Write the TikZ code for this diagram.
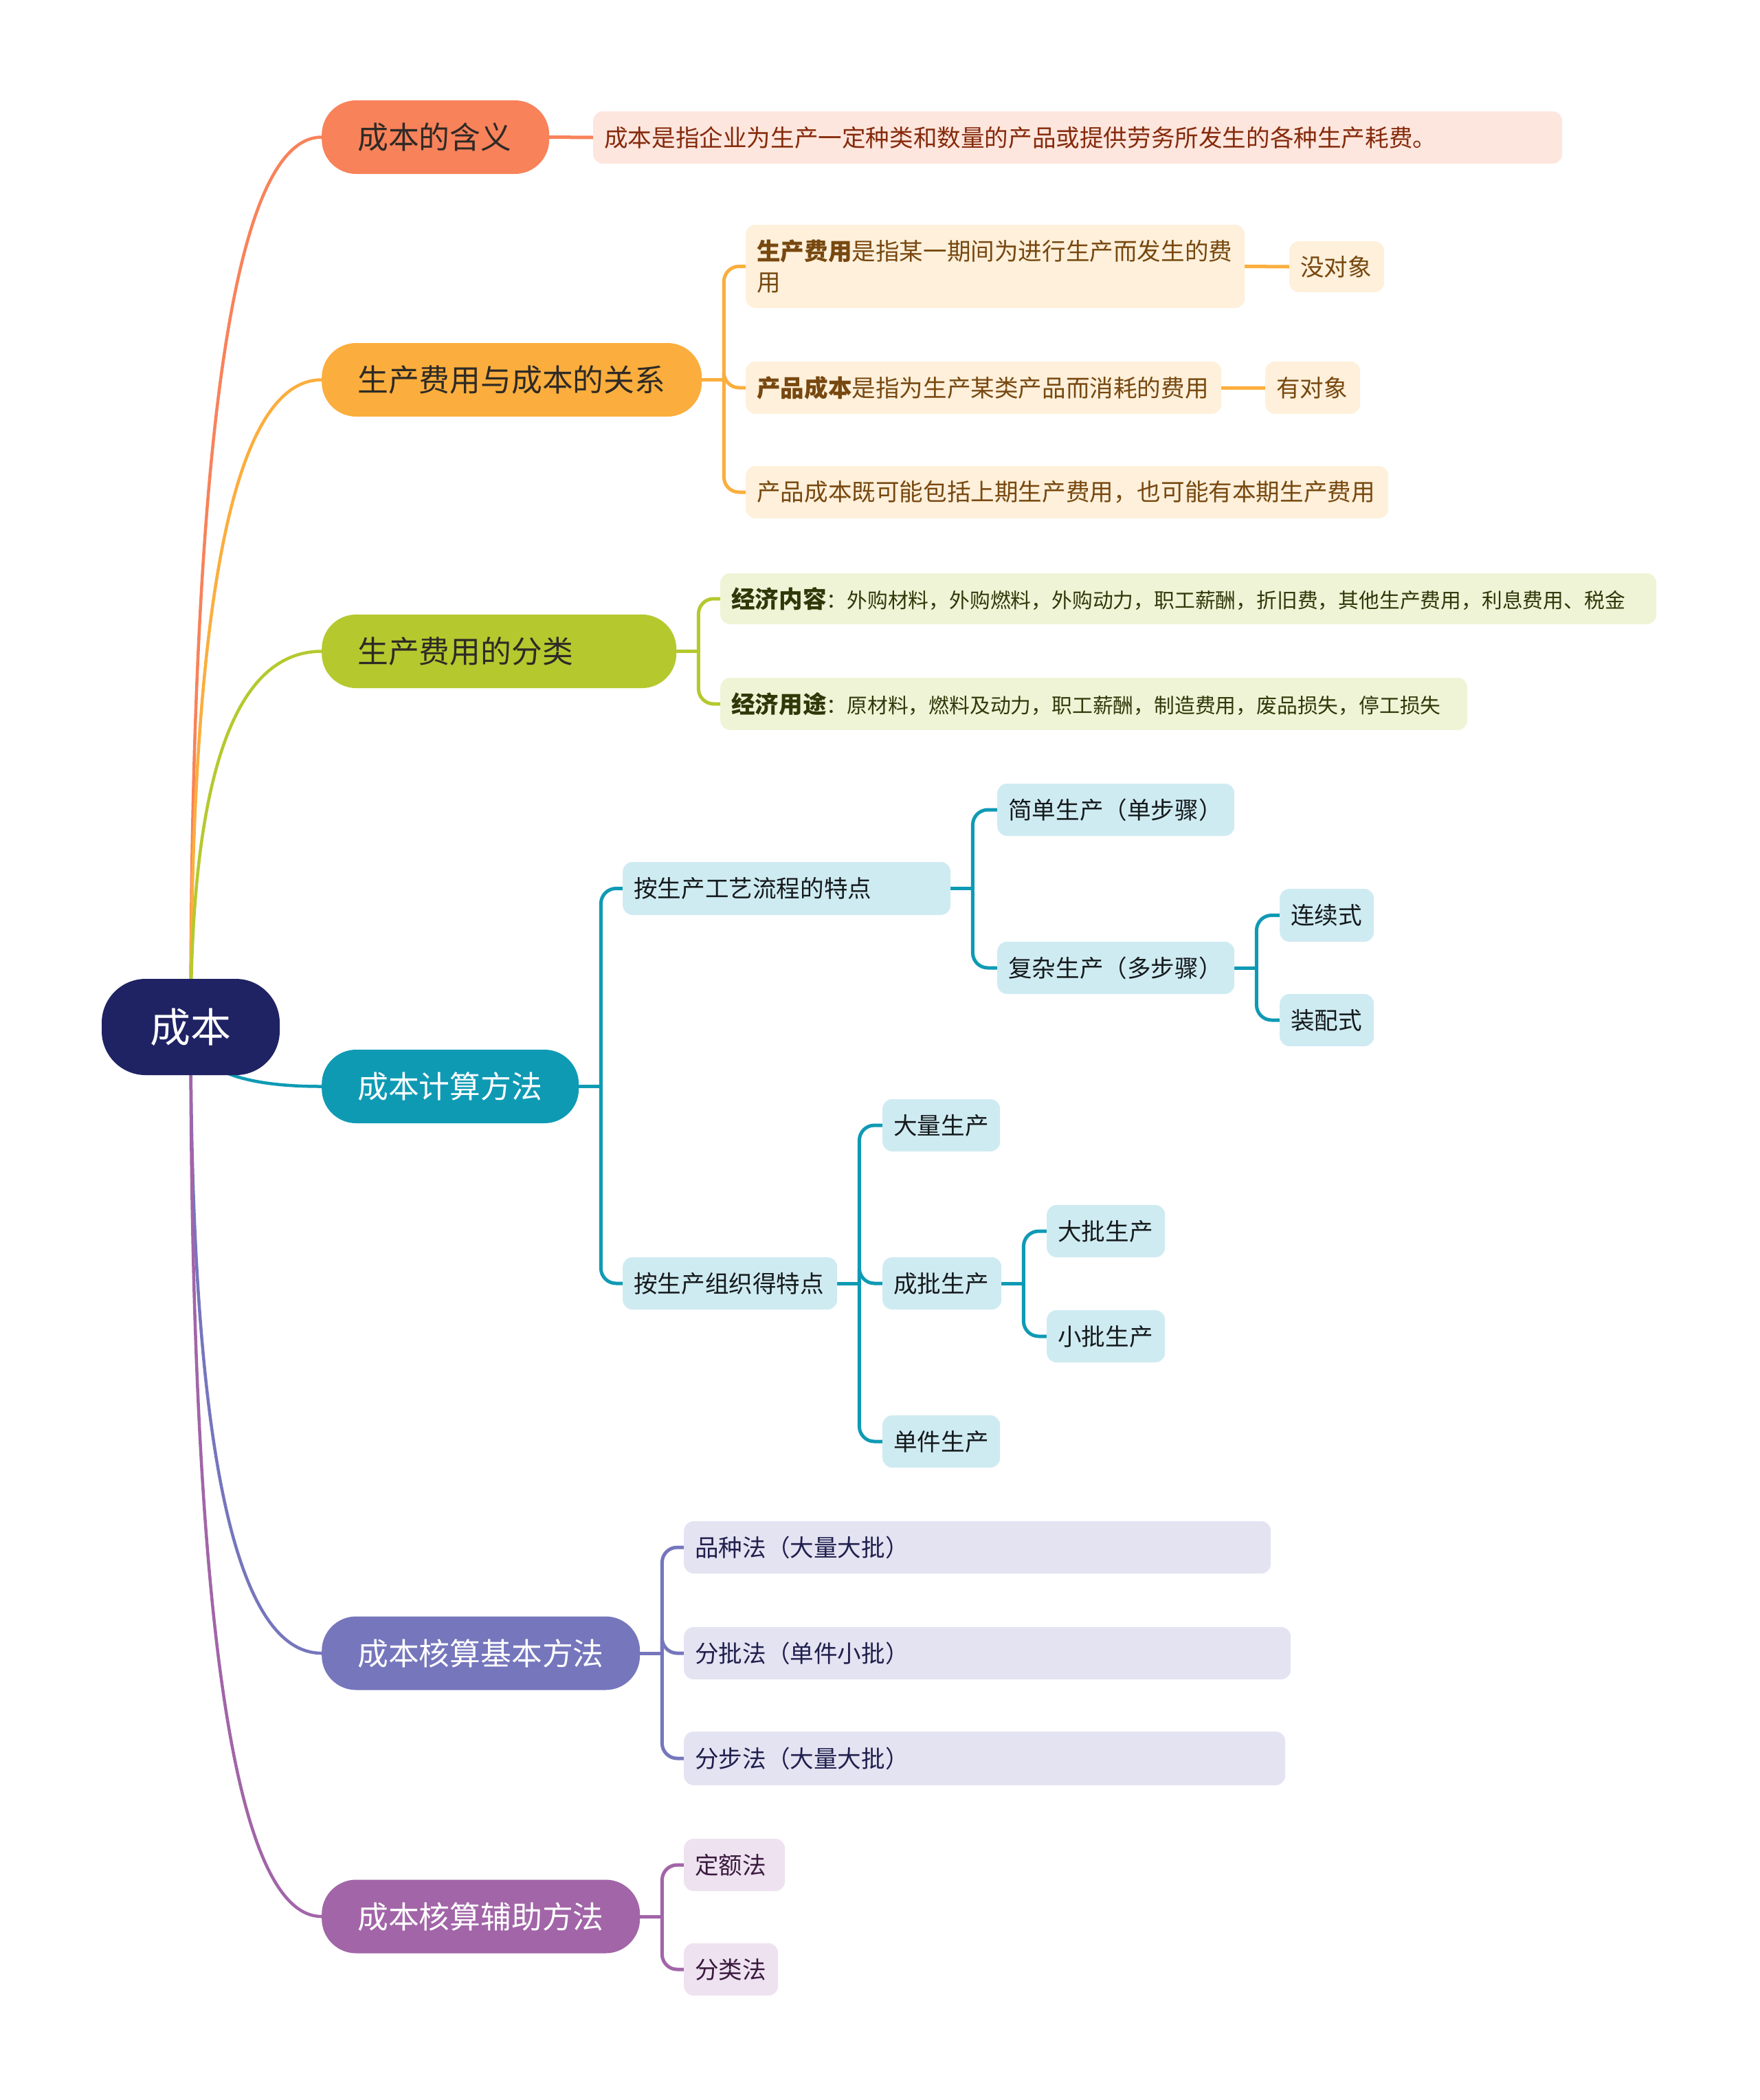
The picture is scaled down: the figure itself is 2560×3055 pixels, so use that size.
\documentclass[tikz,border=0pt]{standalone}
\usepackage{fontspec}
\setmainfont{Noto Sans CJK SC}
\usetikzlibrary{calc,backgrounds}
\definecolor{rootc}{HTML}{1F2363}
\definecolor{ca}{HTML}{F8825A}\definecolor{la}{HTML}{FDE6DD}\definecolor{ta}{HTML}{862A0C}
\definecolor{cb}{HTML}{FBAE3D}\definecolor{lb}{HTML}{FEF0DA}\definecolor{tb}{HTML}{774810}
\definecolor{cc}{HTML}{B5C92E}\definecolor{lc}{HTML}{F0F4D6}\definecolor{tc}{HTML}{30380A}
\definecolor{cd}{HTML}{0F9AB4}\definecolor{ld}{HTML}{CFEBF2}\definecolor{td}{HTML}{151A1C}
\definecolor{ce}{HTML}{7676BD}\definecolor{le}{HTML}{E4E3F2}\definecolor{te}{HTML}{20204E}
\definecolor{cf}{HTML}{A265A8}\definecolor{lf}{HTML}{EEE2F0}\definecolor{tf}{HTML}{3A1A3E}
\definecolor{mtext}{HTML}{2E2A26}
\tikzset{
  conn/.style={line width=4.5pt, line cap=round},
  sublink/.style={line width=5pt, line cap=round, rounded corners=22pt},
  mb/.style={anchor=west, rounded corners=50pt, minimum height=107pt, inner xsep=52pt, inner ysep=0pt, align=left, font=\fontsize{44.8pt}{52pt}\selectfont},
  lfbox/.style={anchor=west, rounded corners=14pt, minimum height=76pt, inner xsep=16pt, inner ysep=0pt, align=left, font=\fontsize{34.6pt}{45pt}\selectfont},
}
\newcommand\mainlink[2]{\draw[conn,#1] (root.center) .. controls ($(root.center)!0.6667!(root.center |- #2.west)$) and ($(#2.west)!0.6667!(root.center |- #2.west)$) .. (#2.west);}
\newcommand\sublinks[3]{\draw[sublink,#1] (#2.east) -- ++(32,0) coordinate (#2sp);
  \foreach \ch in {#3} {\draw[sublink,#1] (#2sp) |- (\ch.west);}}
\newcommand\smtxt{\fontsize{29.8pt}{45pt}\selectfont}
\begin{document}
\begin{tikzpicture}[x=1pt,y=-1pt]
\useasboundingbox (0,0) rectangle (2560,3055);
% root
\node[fill=rootc, text=white, rounded corners=64pt, minimum width=259pt, minimum height=140pt, inner sep=0pt, font=\fontsize{59pt}{64pt}\selectfont] (root) at (277.5,1494) {成本};
% main branches
\node[mb, fill=ca, text=mtext, text width=227pt] (b1) at (468,199.5) {成本的含义};
\node[mb, fill=cb, text=mtext, text width=449pt] (b2) at (468,552.5) {生产费用与成本的关系};
\node[mb, fill=cc, text=mtext, text width=412pt] (b3) at (468,947.5) {生产费用的分类};
\node[mb, fill=cd, text=white, text width=270pt] (b4) at (468,1580.5) {成本计算方法};
\node[mb, fill=ce, text=white, text width=359pt] (b5) at (468,2405) {成本核算基本方法};
\node[mb, fill=cf, text=white, text width=359pt] (b6) at (468,2788) {成本核算辅助方法};
% branch 1
\node[lfbox, fill=la, text=ta, text width=1378pt] (l1) at (863,200) {成本是指企业为生产一定种类和数量的产品或提供劳务所发生的各种生产耗费。};
% branch 2
\node[lfbox, fill=lb, text=tb, text width=694pt, minimum height=121pt] (l2a) at (1085,387.5) {\textbf{生产费用}是指某一期间为进行生产而发生的费\\用};
\node[lfbox, fill=lb, text=tb, text width=106pt, minimum height=74pt] (l2a1) at (1876,388) {没对象};
\node[lfbox, fill=lb, text=tb, text width=660pt] (l2b) at (1085,564) {\textbf{产品成本}是指为生产某类产品而消耗的费用};
\node[lfbox, fill=lb, text=tb, text width=106pt] (l2b1) at (1841,564) {有对象};
\node[lfbox, fill=lb, text=tb, text width=903pt] (l2c) at (1085,716) {产品成本既可能包括上期生产费用，也可能有本期生产费用};
% branch 3
\node[lfbox, fill=lc, text=tc, text width=1330pt, minimum height=74pt] (l3a) at (1048,871) {\textbf{经济内容}{\smtxt：外购材料，外购燃料，外购动力，职工薪酬，折旧费，其他生产费用，利息费用、税金}};
\node[lfbox, fill=lc, text=tc, text width=1055pt] (l3b) at (1048,1024) {\textbf{经济用途}{\smtxt：原材料，燃料及动力，职工薪酬，制造费用，废品损失，停工损失}};
% branch 4
\node[lfbox, fill=ld, text=td, text width=445pt, minimum height=77pt] (c1) at (906,1292.5) {按生产工艺流程的特点};
\node[lfbox, fill=ld, text=td, text width=313pt] (c1a) at (1451,1178) {简单生产（单步骤）};
\node[lfbox, fill=ld, text=td, text width=313pt] (c1b) at (1451,1408) {复杂生产（多步骤）};
\node[lfbox, fill=ld, text=td, text width=105pt, minimum height=77pt] (c1b1) at (1862,1331.5) {连续式};
\node[lfbox, fill=ld, text=td, text width=105pt] (c1b2) at (1862,1484) {装配式};
\node[lfbox, fill=ld, text=td, text width=280pt] (c2) at (906,1867) {按生产组织得特点};
\node[lfbox, fill=ld, text=td, text width=139pt] (c2a) at (1284,1637) {大量生产};
\node[lfbox, fill=ld, text=td, text width=141pt] (c2b) at (1284,1867) {成批生产};
\node[lfbox, fill=ld, text=td, text width=140pt] (c2b1) at (1523,1791) {大批生产};
\node[lfbox, fill=ld, text=td, text width=140pt] (c2b2) at (1523,1944) {小批生产};
\node[lfbox, fill=ld, text=td, text width=139pt] (c2c) at (1284,2097) {单件生产};
% branch 5
\node[lfbox, fill=le, text=te, text width=822pt] (e1) at (995,2251) {品种法（大量大批）};
\node[lfbox, fill=le, text=te, text width=851pt] (e2) at (995,2405) {分批法（单件小批）};
\node[lfbox, fill=le, text=te, text width=843pt, minimum height=78pt] (e3) at (995,2558) {分步法（大量大批）};
% branch 6
\node[lfbox, fill=lf, text=tf, text width=115pt] (f1) at (995,2713) {定额法};
\node[lfbox, fill=lf, text=tf, text width=105pt] (f2) at (995,2865) {分类法};
% connectors
\begin{scope}[on background layer]
\fill[white] (0,0) rectangle (2560,3055);
\mainlink{ca}{b1}
\mainlink{cb}{b2}
\mainlink{cc}{b3}
\mainlink{cd}{b4}
\mainlink{ce}{b5}
\mainlink{cf}{b6}
\draw[sublink,ca] (b1.east) -- (l1.west);
\sublinks{cb}{b2}{l2a,l2b,l2c}
\draw[sublink,cb] (l2a.east) -- (l2a1.west);
\draw[sublink,cb] (l2b.east) -- (l2b1.west);
\sublinks{cc}{b3}{l3a,l3b}
\sublinks{cd}{b4}{c1,c2}
\sublinks{cd}{c1}{c1a,c1b}
\sublinks{cd}{c1b}{c1b1,c1b2}
\sublinks{cd}{c2}{c2a,c2b,c2c}
\sublinks{cd}{c2b}{c2b1,c2b2}
\sublinks{ce}{b5}{e1,e2,e3}
\sublinks{cf}{b6}{f1,f2}
\end{scope}
\end{tikzpicture}
\end{document}
